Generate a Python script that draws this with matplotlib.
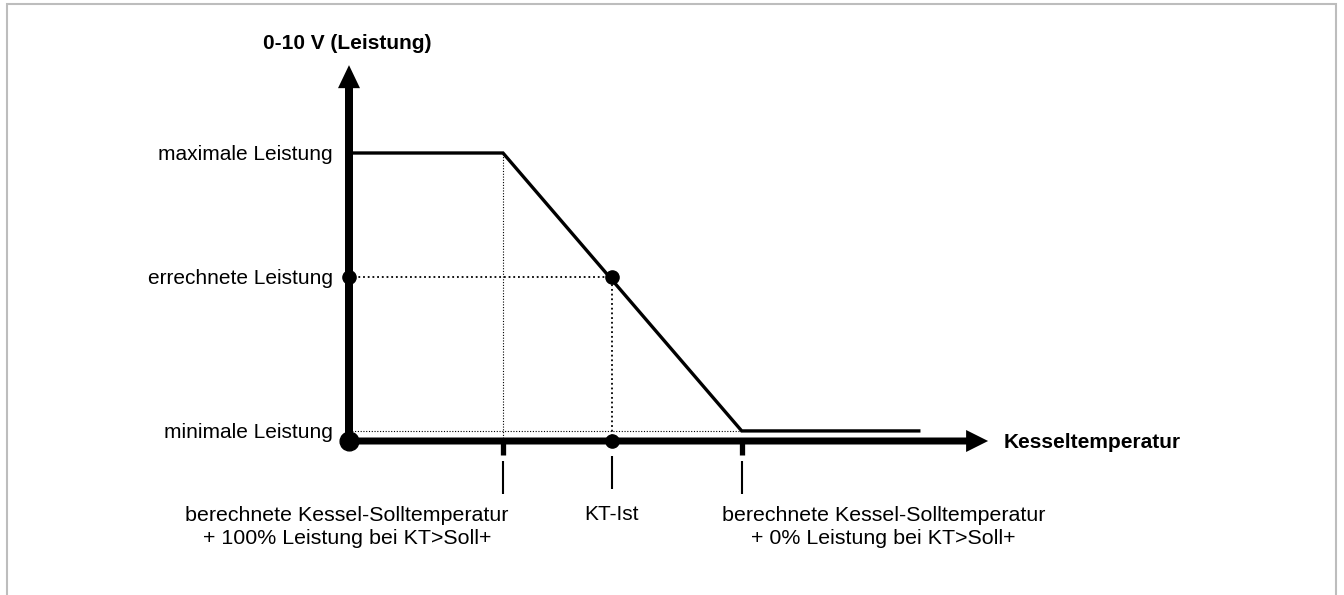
"""
Kesseltemperatur vs. 0-10 V Leistung: schematic control curve.
"""

import matplotlib.pyplot as plt
from matplotlib.patches import Rectangle

# values (x: Kesseltemperatur in arbitrary units, y: output in V)
curve_x = [0.0, 20.0, 51.0, 74.0]
curve_y = [10.0, 10.0, 0.35, 0.35]
temp_100 = 20.0      # Soll + 100% Leistung
kt_ist = 34.2        # current boiler temperature
temp_0 = 51.0        # Soll + 0% Leistung
p_max = 10.0
p_calc = 5.7
p_min = 0.35
x_axis_end = 83.0
y_axis_end = 13.05

y_labels = ["maximale Leistung", "errechnete Leistung", "minimale Leistung"]
y_label_vals = [p_max, p_calc, p_min]
left_label = "berechnete Kessel-Solltemperatur\n+ 100% Leistung bei KT>Soll+"
right_label = "berechnete Kessel-Solltemperatur\n+ 0% Leistung bei KT>Soll+"

# layout: pixels per data unit, origin position in pixels
W, H = 1344, 595
PX_X, PX_Y = 7.7, 28.8
OX, OY = 349, 441

plt.rcParams["font.family"] = ["Liberation Sans", "DejaVu Sans"]
FS = 15

fig = plt.figure(figsize=(W / 100, H / 100), dpi=100)
ax = fig.add_axes([0, 0, 1, 1])
ax.set_xlim(-OX / PX_X, (W - OX) / PX_X)
ax.set_ylim(-(H - OY) / PX_Y, OY / PX_Y)
ax.axis("off")

# frame around the figure
fig.add_artist(Rectangle((7 / W, -0.1), (1336 - 7) / W, (H - 4) / H + 0.1,
                         transform=fig.transFigure, fill=False,
                         edgecolor="#bdbdbd", lw=1.5))


def py(px):
    # pixel length -> y data units
    return px / PX_Y


def px_(px):
    # pixel length -> x data units
    return px / PX_X


# helper dotted lines
ax.plot([0, temp_0], [p_min, p_min], color="black", lw=0.8, ls=(0, (1, 1.5)))
ax.plot([temp_100, temp_100], [0, p_max], color="black", lw=0.8, ls=(0, (1, 1.5)))
ax.plot([0, kt_ist], [p_calc, p_calc], color="black", lw=1.3, ls=(0, (1, 1.6)))
ax.plot([kt_ist, kt_ist], [0, p_calc], color="black", lw=1.3, ls=(0, (1, 1.6)))

# control curve
ax.plot(curve_x, curve_y, color="black", lw=2.4, solid_joinstyle="miter")

# axes with arrows
ax.arrow(0, -py(2), 0, y_axis_end + py(2), width=px_(8), head_width=px_(22),
         head_length=py(23), length_includes_head=True, fc="black", ec="none")
ax.arrow(0, 0, x_axis_end, 0, width=py(7), head_width=py(22),
         head_length=px_(22), length_includes_head=True, fc="black", ec="none")

# ticks on the x axis
for xt in [temp_100, temp_0]:
    ax.plot([xt, xt], [0, -py(14)], color="black", lw=3.8, solid_capstyle="butt")
    ax.plot([xt, xt], [-py(20), -py(53)], color="black", lw=1.5, solid_capstyle="butt")
ax.plot([kt_ist, kt_ist], [-py(15), -py(48)], color="black", lw=1.5, solid_capstyle="butt")

# points
ax.plot([0], [0], "o", color="black", ms=13.5)
ax.plot([kt_ist], [0], "o", color="black", ms=9.5)
ax.plot([0, kt_ist], [p_calc, p_calc], "o", color="black", ms=9.5, ls="none")

# labels
ax.annotate("0-10 V (Leistung)", xy=(0, y_axis_end), xytext=(-2, 22),
            textcoords="offset pixels", ha="center", va="center",
            fontsize=FS, fontweight="bold")
ax.annotate("Kesseltemperatur", xy=(x_axis_end, 0), xytext=(16, -1),
            textcoords="offset pixels", ha="left", va="center",
            fontsize=FS, fontweight="bold")

for lab, val in zip(y_labels, y_label_vals):
    ax.annotate(lab, xy=(0, val), xytext=(-16, -2), textcoords="offset pixels",
                ha="right", va="center", fontsize=FS)

ax.annotate(left_label, xy=(temp_100, 0), xytext=(-156, -86),
            textcoords="offset pixels", ha="center", va="center",
            multialignment="center", fontsize=15.4, linespacing=1.25)
ax.annotate("KT-Ist", xy=(kt_ist, 0), xytext=(-1, -73),
            textcoords="offset pixels", ha="center", va="center", fontsize=FS)
ax.annotate(right_label, xy=(temp_0, 0), xytext=(142, -86),
            textcoords="offset pixels", ha="center", va="center",
            multialignment="center", fontsize=15.4, linespacing=1.25)

fig.savefig("out.png", dpi=100)
